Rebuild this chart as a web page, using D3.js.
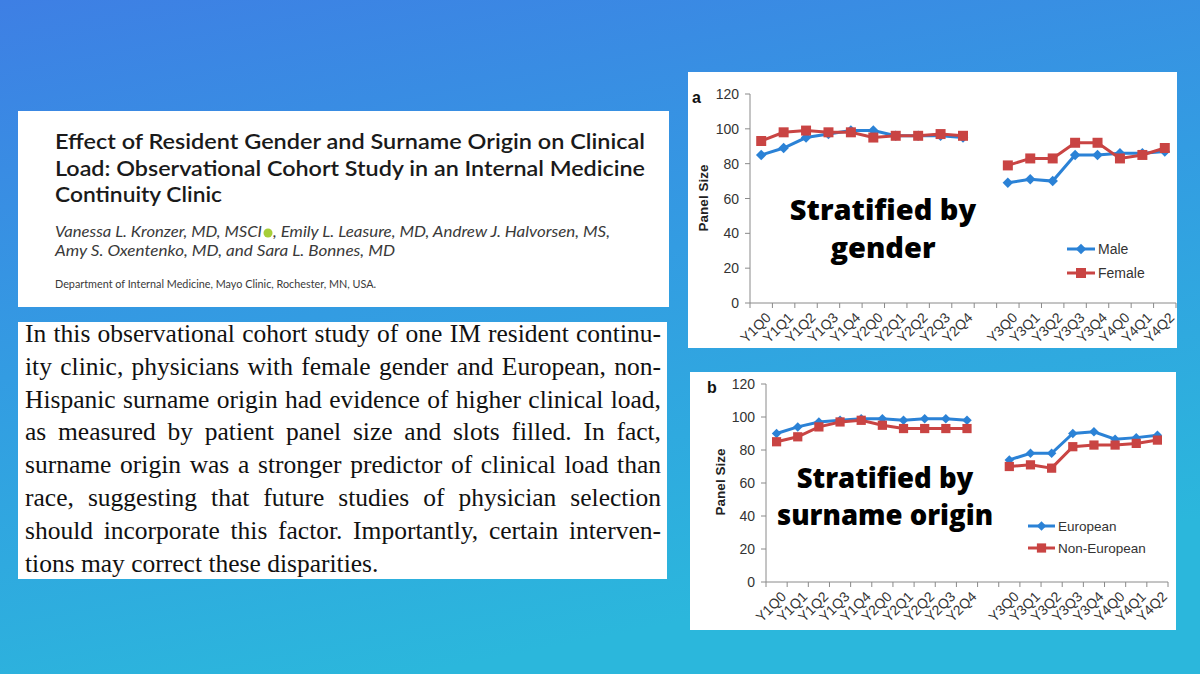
<!DOCTYPE html>
<html>
<head>
<meta charset="utf-8">
<script src="https://cdn.jsdelivr.net/npm/d3@7"></script>
<style>
  body { margin: 0; overflow: hidden; }
</style>
</head>
<body>
<div id="slide"></div>
<script>
// ---- data ----
const categories = ["Y1Q0", "Y1Q1", "Y1Q2", "Y1Q3", "Y1Q4", "Y2Q0", "Y2Q1", "Y2Q2", "Y2Q3", "Y2Q4", "",
  "Y3Q0", "Y3Q1", "Y3Q2", "Y3Q3", "Y3Q4", "Y4Q0", "Y4Q1", "Y4Q2"];
const yTicks = [0, 20, 40, 60, 80, 100, 120];

// panel a: by gender (null = gap between the two periods)
const male = [85, 89, 95, 97, 99, 99, 96, 96, 96, 95, null, 69, 71, 70, 85, 85, 86, 86, 87];
const female = [93, 98, 99, 98, 98, 95, 96, 96, 97, 96, null, 79, 83, 83, 92, 92, 83, 85, 89];

// panel b: by surname origin
const european = [90, 94, 97, 98, 99, 99, 98, 99, 99, 98, null, 74, 78, 78, 90, 91, 86.5, 87.5, 89];
const nonEuropean = [85, 88, 94, 97, 98, 95, 93, 93, 93, 93, null, 70, 71, 69, 82, 83, 83, 84, 86];

const titleLines = [
  "Effect of Resident Gender and Surname Origin on Clinical",
  "Load: Observational Cohort Study in an Internal Medicine",
  "Continuity Clinic"
];
const bodyLines = [
  "In this observational cohort study of one IM resident continu-",
  "ity clinic, physicians with female gender and European, non-",
  "Hispanic surname origin had evidence of higher clinical load,",
  "as measured by patient panel size and slots filled. In fact,",
  "surname origin was a stronger predictor of clinical load than",
  "race, suggesting that future studies of physician selection",
  "should incorporate this factor. Importantly, certain interven-",
  "tions may correct these disparities."
];

const BLUE = "#2b82d6";
const RED = "#c94443";

const svg = d3.select("#slide").append("svg")
  .attr("width", 1200)
  .attr("height", 674)
  .style("display", "block");

// background gradient
const defs = svg.append("defs");
const grad = defs.append("linearGradient").attr("id", "bg")
  .attr("x1", 0).attr("y1", 0).attr("x2", 0.35).attr("y2", 1);
grad.append("stop").attr("offset", "0%").attr("stop-color", "#3e7fe4");
grad.append("stop").attr("offset", "50%").attr("stop-color", "#339ce2");
grad.append("stop").attr("offset", "100%").attr("stop-color", "#2bb7dc");
svg.append("rect").attr("width", 1200).attr("height", 674).attr("fill", "url(#bg)");

// ---- title card ----
svg.append("rect").attr("x", 18).attr("y", 111).attr("width", 651).attr("height", 196).attr("fill", "#fff");

const titleW = [590, 590, 167];
svg.selectAll(".title").data(titleLines).enter().append("text")
  .attr("class", "title")
  .attr("x", 55)
  .attr("y", (d, i) => 149 + i * 26.5)
  .attr("textLength", (d, i) => titleW[i])
  .attr("lengthAdjust", "spacingAndGlyphs")
  .style("font-family", "Lato, 'Liberation Sans', sans-serif")
  .style("font-size", "21px")
  .style("font-weight", 600)
  .attr("fill", "#1a1a1a")
  .text(d => d);

const authorStyle = t => t.style("font-family", "Lato, 'Liberation Sans', sans-serif")
  .style("font-size", "15.5px").style("font-style", "italic").attr("fill", "#3a3a3a");

svg.append("text").attr("x", 55).attr("y", 237).attr("textLength", 207)
  .attr("lengthAdjust", "spacingAndGlyphs")
  .call(authorStyle).text("Vanessa L. Kronzer, MD, MSCI");
svg.append("circle").attr("cx", 268).attr("cy", 233).attr("r", 4.5).attr("fill", "#a6ce39");
svg.append("text").attr("x", 273).attr("y", 237).attr("textLength", 337)
  .attr("lengthAdjust", "spacingAndGlyphs")
  .call(authorStyle).text(", Emily L. Leasure, MD, Andrew J. Halvorsen, MS,");
svg.append("text").attr("x", 55).attr("y", 256).attr("textLength", 340)
  .attr("lengthAdjust", "spacingAndGlyphs")
  .call(authorStyle).text("Amy S. Oxentenko, MD, and Sara L. Bonnes, MD");

svg.append("text").attr("x", 55).attr("y", 288).attr("textLength", 321)
  .attr("lengthAdjust", "spacingAndGlyphs")
  .style("font-family", "Lato, 'Liberation Sans', sans-serif")
  .style("font-size", "11px").attr("fill", "#3a3a3a")
  .text("Department of Internal Medicine, Mayo Clinic, Rochester, MN, USA.");

// ---- abstract card ----
svg.append("rect").attr("x", 18).attr("y", 322).attr("width", 649).attr("height", 257).attr("fill", "#fff");

const body = svg.selectAll(".body").data(bodyLines).enter().append("text")
  .attr("class", "body")
  .attr("x", 25)
  .attr("y", (d, i) => 342 + i * 32.8)
  .style("font-family", "'Liberation Serif', 'Times New Roman', serif")
  .style("font-size", "25.5px")
  .attr("fill", "#111")
  .text(d => d);

// justify all lines but the last one
body.each(function(d, i) {
  if (i === bodyLines.length - 1) return;
  const natural = this.getComputedTextLength();
  const spaces = d.split(" ").length - 1;
  d3.select(this).style("word-spacing", ((636 - natural) / spaces) + "px");
});

// ---- charts ----
function drawChart(o) {
  const g = svg.append("g");
  g.append("rect").attr("x", o.box[0]).attr("y", o.box[1])
    .attr("width", o.box[2]).attr("height", o.box[3]).attr("fill", "#fff");

  const x = d3.scaleBand().domain(categories).range([o.x0, o.x1]);
  const y = d3.scaleLinear().domain([0, 120]).range([o.yBottom, o.yTop]);
  const cx = c => x(c) + x.bandwidth() / 2;

  // y axis
  g.append("line").attr("x1", o.x0).attr("x2", o.x0)
    .attr("y1", y(0)).attr("y2", y(120)).attr("stroke", "#8a8a8a");
  g.selectAll(".yt").data(yTicks).enter().append("line")
    .attr("x1", o.x0 - 5).attr("x2", o.x0)
    .attr("y1", d => y(d)).attr("y2", d => y(d)).attr("stroke", "#8a8a8a");
  g.selectAll(".yl").data(yTicks).enter().append("text")
    .attr("x", o.x0 - 11).attr("y", d => y(d)).attr("dy", "0.36em")
    .attr("text-anchor", "end")
    .style("font-family", "'Liberation Sans', Arial, sans-serif")
    .style("font-size", "14px").attr("fill", "#333")
    .text(d => d);

  // x axis with ticks between categories
  g.append("line").attr("x1", o.x0).attr("x2", o.x1)
    .attr("y1", y(0)).attr("y2", y(0)).attr("stroke", "#8a8a8a");
  const edges = categories.map(c => x(c)).concat([o.x1]);
  g.selectAll(".xt").data(edges).enter().append("line")
    .attr("x1", d => d).attr("x2", d => d)
    .attr("y1", y(0)).attr("y2", y(0) + 5).attr("stroke", "#8a8a8a");
  g.selectAll(".xl").data(categories.filter(c => c !== "")).enter().append("text")
    .attr("transform", c => `translate(${cx(c) + 7},${y(0) + 12}) rotate(-45)`)
    .attr("text-anchor", "end").attr("dy", "0.35em")
    .style("font-family", "'Liberation Sans', Arial, sans-serif")
    .style("font-size", "14px").attr("fill", "#333")
    .text(c => c);

  // panel letter and axis title
  g.append("text").attr("x", o.letter[0]).attr("y", o.letter[1])
    .style("font-family", "'Liberation Sans', Arial, sans-serif")
    .style("font-size", "16px").style("font-weight", "bold").attr("fill", "#111")
    .text(o.letterText);
  g.append("text")
    .attr("transform", `translate(${o.yTitle[0]},${o.yTitle[1]}) rotate(-90)`)
    .attr("text-anchor", "middle").attr("dy", "0.35em")
    .style("font-family", "'Liberation Sans', Arial, sans-serif")
    .style("font-size", "13.5px").style("font-weight", "bold").attr("fill", "#222")
    .text("Panel Size");

  // series
  const line = d3.line()
    .defined(d => d !== null)
    .x((d, i) => cx(categories[i]))
    .y(d => y(d));
  const diamond = d3.symbol().type(d3.symbolSquare).size(o.diamond);
  const square = d3.symbol().type(d3.symbolSquare).size(o.square);

  o.series.forEach(s => {
    g.append("path").datum(s.values)
      .attr("d", line).attr("fill", "none")
      .attr("stroke", s.color).attr("stroke-width", 3);
    g.selectAll(null).data(s.values.map((v, i) => ({ v, c: categories[i] })).filter(d => d.v !== null))
      .enter().append("path")
      .attr("d", s.marker === "diamond" ? diamond : square)
      .attr("transform", d => `translate(${cx(d.c)},${y(d.v)})` + (s.marker === "diamond" ? " rotate(45)" : ""))
      .attr("fill", s.color);
  });

  // legend
  o.series.forEach((s, i) => {
    const ly = o.legend.y + i * o.legend.gap;
    g.append("line").attr("x1", o.legend.x0).attr("x2", o.legend.x1)
      .attr("y1", ly).attr("y2", ly).attr("stroke", s.color).attr("stroke-width", 3);
    g.append("path")
      .attr("d", s.marker === "diamond" ? diamond : square)
      .attr("transform", `translate(${(o.legend.x0 + o.legend.x1) / 2},${ly})` + (s.marker === "diamond" ? " rotate(45)" : ""))
      .attr("fill", s.color);
    g.append("text").attr("x", o.legend.x1 + 3).attr("y", ly).attr("dy", "0.36em")
      .style("font-family", "'Liberation Sans', Arial, sans-serif")
      .style("font-size", o.legend.size + "px").attr("fill", "#333")
      .text(s.name);
  });

  // overlay caption
  g.selectAll(".cap").data(o.caption).enter().append("text")
    .attr("x", o.capX).attr("y", (d, i) => o.capY[i])
    .attr("text-anchor", "middle")
    .style("font-family", "'Open Sans', sans-serif")
    .style("font-size", o.capSize + "px").style("font-weight", 800)
    .attr("fill", "#000")
    .text(d => d);
}

drawChart({
  box: [688, 72, 489, 276],
  x0: 750, x1: 1176, yBottom: 303, yTop: 94,
  letter: [692, 103], letterText: "a",
  yTitle: [703, 198],
  diamond: 55, square: 100,
  series: [
    { name: "Male", values: male, color: BLUE, marker: "diamond" },
    { name: "Female", values: female, color: RED, marker: "square" }
  ],
  legend: { x0: 1067, x1: 1095, y: 249, gap: 24, size: 14 },
  caption: ["Stratified by", "gender"],
  capX: 883, capY: [220, 258], capSize: 29
});

drawChart({
  box: [690, 372, 486, 258],
  x0: 766, x1: 1168, yBottom: 582, yTop: 384,
  letter: [707, 393], letterText: "b",
  yTitle: [720, 482],
  diamond: 45, square: 85,
  series: [
    { name: "European", values: european, color: BLUE, marker: "diamond" },
    { name: "Non-European", values: nonEuropean, color: RED, marker: "square" }
  ],
  legend: { x0: 1028, x1: 1055, y: 526, gap: 22, size: 13.5 },
  caption: ["Stratified by", "surname origin"],
  capX: 885, capY: [488, 525], capSize: 27.5
});
</script>
</body>
</html>
